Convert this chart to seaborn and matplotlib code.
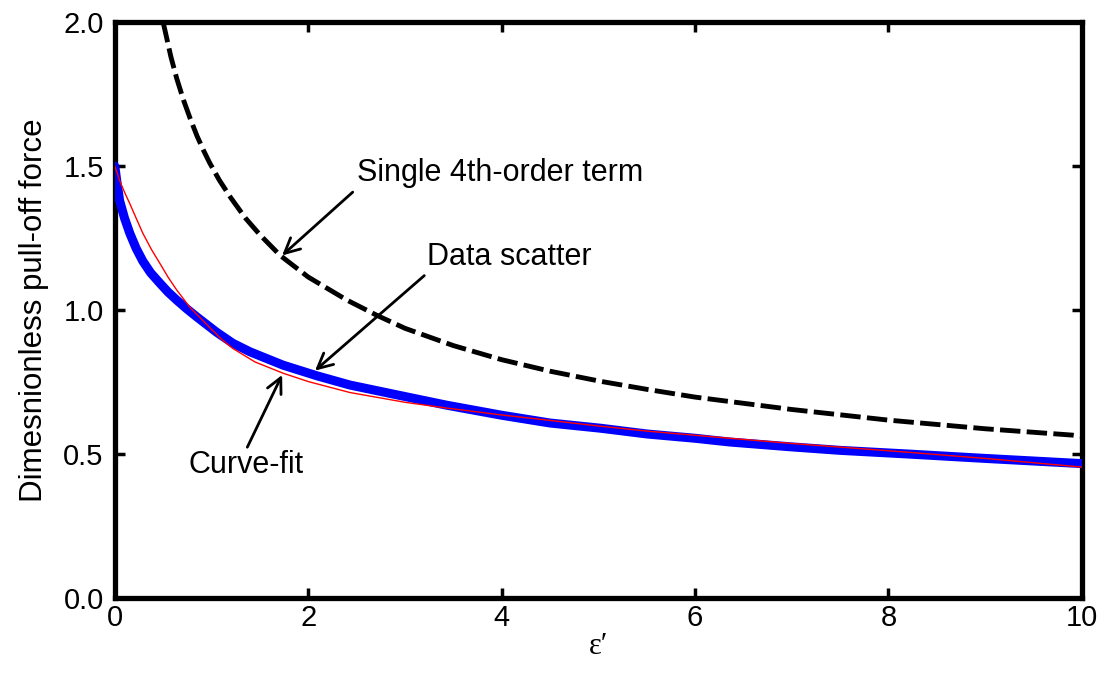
import matplotlib
matplotlib.use("Agg")
import matplotlib.pyplot as plt
import seaborn as sns
import pandas as pd

# ---- data ----
scatter_x = [0.0, 0.02, 0.05, 0.10, 0.155, 0.22, 0.29, 0.37, 0.465, 0.55, 0.64, 0.75, 0.85, 0.95, 1.05,
             1.22, 1.40, 1.74, 2.09, 2.43, 3.0, 3.43, 4.0, 4.5, 5.02, 5.5, 6.0, 6.36, 7.0, 7.5, 8.22,
             9.0, 9.5, 10.0]
scatter_y = [1.50, 1.45, 1.38, 1.32, 1.267, 1.215, 1.17, 1.13, 1.094, 1.063, 1.035, 1.003, 0.976, 0.95, 0.924,
             0.885, 0.855, 0.809, 0.772, 0.74, 0.70, 0.67, 0.635, 0.608, 0.59, 0.57, 0.555, 0.542, 0.525, 0.513, 0.50,
             0.485, 0.476, 0.467]

fit_x = [0.0, 0.05, 0.10, 0.155, 0.22, 0.29, 0.38, 0.465, 0.55, 0.64, 0.776, 0.98, 1.10, 1.22, 1.45, 1.74,
         2.0, 2.43, 3.0, 3.43, 4.0, 4.5, 5.02, 5.5, 6.36, 7.0, 8.22, 9.0, 10.0]
fit_y = [1.50, 1.45, 1.41, 1.37, 1.32, 1.267, 1.21, 1.163, 1.115, 1.07, 1.01, 0.94, 0.90, 0.867, 0.82, 0.781,
         0.752, 0.714, 0.68, 0.66, 0.636, 0.617, 0.597, 0.58, 0.555, 0.537, 0.506, 0.485, 0.455]

single_x = [0.5, 0.52, 0.58, 0.64, 0.71, 0.78, 0.85, 0.92, 0.98, 1.08, 1.2, 1.35, 1.5, 1.71, 2.0, 2.4,
            2.71, 3.0, 3.5, 4.0, 4.5, 5.02, 5.5, 6.0, 7.0, 8.0, 9.0, 9.9, 10.0]
single_y = [2.00, 1.97, 1.88, 1.805, 1.73, 1.665, 1.605, 1.553, 1.512, 1.452, 1.39, 1.32, 1.262, 1.19, 1.115,
            1.035, 0.982, 0.937, 0.877, 0.828, 0.788, 0.753, 0.725, 0.698, 0.655, 0.618, 0.588, 0.566, 0.562]

x_ticks = [0, 2, 4, 6, 8, 10]
y_ticks = [0.0, 0.5, 1.0, 1.5, 2.0]
y_tick_labels = ["0.0", "0.5", "1.0", "1.5", "2.0"]

sns.set_theme(style="white")
plt.rcParams['font.family'] = ['Liberation Sans', 'DejaVu Sans']
plt.rcParams['text.color'] = 'black'
plt.rcParams['axes.labelcolor'] = 'black'

fig = plt.figure(figsize=(11.04, 6.75), dpi=100)
ax = fig.add_axes([0.104, 0.114, 0.876, 0.853])

df_s = pd.DataFrame({"x": scatter_x, "y": scatter_y})
df_f = pd.DataFrame({"x": fit_x, "y": fit_y})
df_1 = pd.DataFrame({"x": single_x, "y": single_y})

sns.lineplot(data=df_s, x="x", y="y", ax=ax, color="#0000ff", linewidth=6.5, sort=False,
             solid_capstyle="round", zorder=3)
sns.lineplot(data=df_f, x="x", y="y", ax=ax, color="#ff0000", linewidth=1.0, sort=False, zorder=4)
sns.lineplot(data=df_1, x="x", y="y", ax=ax, color="black", linewidth=3.5, sort=False, zorder=3)
ax.lines[-1].set_dashes([4.2, 1.3])

ax.set_xlim(0, 10)
ax.set_ylim(0, 2.0)
ax.set_xticks(x_ticks)
ax.set_xticklabels([str(t) for t in x_ticks])
ax.set_yticks(y_ticks)
ax.set_yticklabels(y_tick_labels)

for s in ax.spines.values():
    s.set_visible(True)
    s.set_linewidth(3.8)
    s.set_color("black")

ax.tick_params(direction="in", length=7, width=2.5, colors="black", labelcolor="black",
               labelsize=21, top=True, right=True, bottom=True, left=True)
ax.tick_params(axis="x", pad=4)
ax.tick_params(axis="y", pad=8)

ax.set_xlabel("ε′", fontsize=22, family=['Liberation Serif', 'DejaVu Serif'], labelpad=0, color="black")
ax.set_ylabel("Dimesnionless pull-off force", fontsize=22.5, labelpad=10, color="black")

arrow_kw = dict(arrowstyle="->,head_length=0.9,head_width=0.45", color="black", lw=2.0,
                shrinkA=0, shrinkB=0)
ax.annotate("", xy=(1.73, 1.19), xytext=(2.46, 1.41), arrowprops=arrow_kw, zorder=5)
ax.text(2.50, 1.476, "Single 4th-order term", fontsize=22, ha="left", va="center", color="black")

ax.annotate("", xy=(2.07, 0.79), xytext=(3.20, 1.12), arrowprops=arrow_kw, zorder=5)
ax.text(3.23, 1.184, "Data scatter", fontsize=22, ha="left", va="center", color="black")

ax.annotate("", xy=(1.73, 0.775), xytext=(1.37, 0.524), arrowprops=arrow_kw, zorder=5)
ax.text(0.765, 0.462, "Curve-fit", fontsize=22, ha="left", va="center", color="black")

ax.set_facecolor("white")
fig.patch.set_facecolor("white")
fig.savefig("out.png", dpi=100)
